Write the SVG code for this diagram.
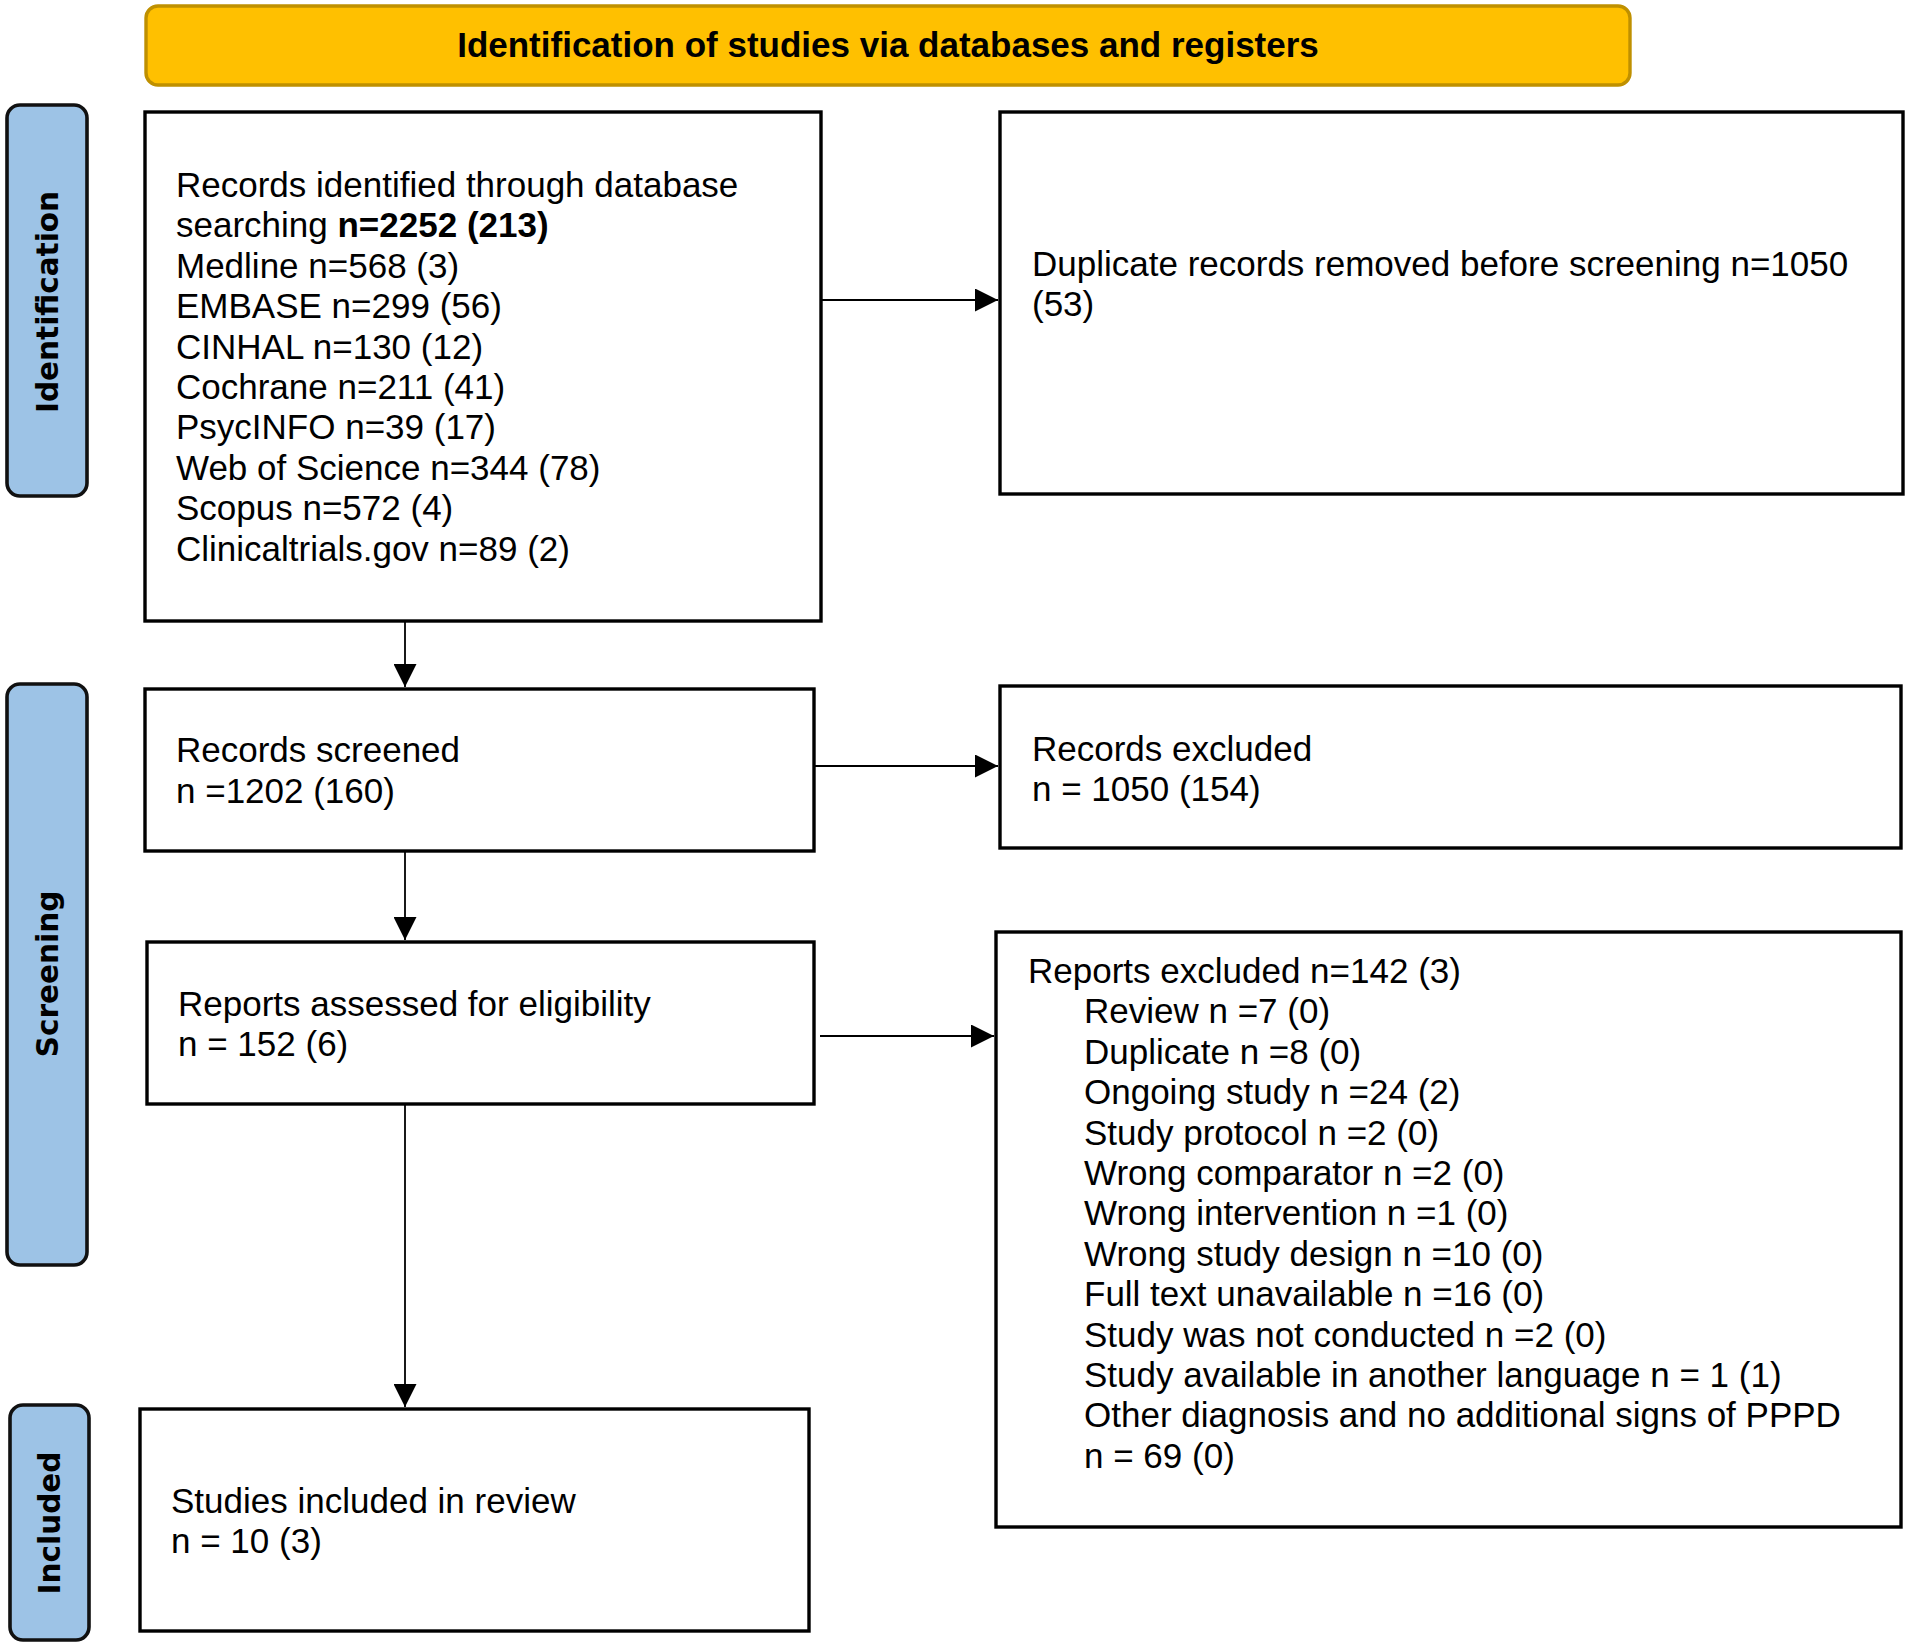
<svg xmlns="http://www.w3.org/2000/svg" width="1908" height="1645" viewBox="0 0 1908 1645">
<style>
.bg{fill:#ffffff}
.box{fill:#ffffff;stroke:#000000;stroke-width:3.4}
.phase{fill:#9DC3E6;stroke:#111111;stroke-width:3.6}
.hdr{fill:#FFC000;stroke:#BF9000;stroke-width:3.4}
.t{font-family:"Liberation Sans",Arial,sans-serif;font-size:35px;fill:#000000}
.hb{font-family:"Liberation Sans",Arial,sans-serif;font-size:35px;font-weight:bold;fill:#000000}
.pt{font-family:"DejaVu Sans",Verdana,sans-serif;font-size:29.5px;font-weight:bold;fill:#000000}
.c{fill:none;stroke:#000000;stroke-width:1.8}
</style>
<defs>
<marker id="ah" markerUnits="userSpaceOnUse" markerWidth="23" markerHeight="23" refX="23" refY="11.5" orient="auto">
<path d="M0,0 L23,11.5 L0,23 z" fill="#000000"/>
</marker>
</defs>
<rect class="bg" x="0" y="0" width="1908" height="1645"/>

<g id="header">
<rect class="hdr" x="146" y="6" width="1484" height="79" rx="12" ry="12"/>
<text class="hb" x="888" y="57" text-anchor="middle">Identification of studies via databases and registers</text>
</g>

<g id="phase-identification">
<rect class="phase" x="7" y="105" width="80" height="391" rx="13" ry="13"/>
<text class="pt" transform="translate(58,302) rotate(-90)" text-anchor="middle">Identification</text>
</g>
<g id="phase-screening">
<rect class="phase" x="7" y="684" width="80" height="581" rx="13" ry="13"/>
<text class="pt" transform="translate(58,974) rotate(-90)" text-anchor="middle">Screening</text>
</g>
<g id="phase-included">
<rect class="phase" x="10" y="1405" width="79" height="235" rx="13" ry="13"/>
<text class="pt" transform="translate(60,1523) rotate(-90)" text-anchor="middle">Included</text>
</g>

<g id="records-identified">
<rect class="box" x="145" y="112" width="676" height="509"/>
<text class="t" x="176" y="197">Records identified through database</text>
<text class="t" x="176" y="237">searching <tspan font-weight="bold">n=2252 (213)</tspan></text>
<text class="t" x="176" y="278">Medline n=568 (3)</text>
<text class="t" x="176" y="318">EMBASE n=299 (56)</text>
<text class="t" x="176" y="359">CINHAL n=130 (12)</text>
<text class="t" x="176" y="399">Cochrane n=211 (41)</text>
<text class="t" x="176" y="439">PsycINFO n=39 (17)</text>
<text class="t" x="176" y="480">Web of Science n=344 (78)</text>
<text class="t" x="176" y="520">Scopus n=572 (4)</text>
<text class="t" x="176" y="561">Clinicaltrials.gov n=89 (2)</text>
</g>

<g id="duplicates-removed">
<rect class="box" x="1000" y="112" width="903" height="382"/>
<text class="t" x="1032" y="276">Duplicate records removed before screening n=1050</text>
<text class="t" x="1032" y="316">(53)</text>
</g>

<g id="records-screened">
<rect class="box" x="145" y="689" width="669" height="162"/>
<text class="t" x="176" y="762">Records screened</text>
<text class="t" x="176" y="803">n =1202 (160)</text>
</g>

<g id="records-excluded">
<rect class="box" x="1000" y="686" width="901" height="162"/>
<text class="t" x="1032" y="761">Records excluded</text>
<text class="t" x="1032" y="801">n = 1050 (154)</text>
</g>

<g id="reports-assessed">
<rect class="box" x="147" y="942" width="667" height="162"/>
<text class="t" x="178" y="1016">Reports assessed for eligibility</text>
<text class="t" x="178" y="1056">n = 152 (6)</text>
</g>

<g id="reports-excluded">
<rect class="box" x="996" y="932" width="905" height="595"/>
<text class="t" x="1028" y="983">Reports excluded n=142 (3)</text>
<text class="t" x="1084" y="1023">Review n =7 (0)</text>
<text class="t" x="1084" y="1064">Duplicate n =8 (0)</text>
<text class="t" x="1084" y="1104">Ongoing study n =24 (2)</text>
<text class="t" x="1084" y="1145">Study protocol n =2 (0)</text>
<text class="t" x="1084" y="1185">Wrong comparator n =2 (0)</text>
<text class="t" x="1084" y="1225">Wrong intervention n =1 (0)</text>
<text class="t" x="1084" y="1266">Wrong study design n =10 (0)</text>
<text class="t" x="1084" y="1306">Full text unavailable n =16 (0)</text>
<text class="t" x="1084" y="1347">Study was not conducted n =2 (0)</text>
<text class="t" x="1084" y="1387">Study available in another language n = 1 (1)</text>
<text class="t" x="1084" y="1427">Other diagnosis and no additional signs of PPPD</text>
<text class="t" x="1084" y="1468">n = 69 (0)</text>
</g>

<g id="studies-included">
<rect class="box" x="140" y="1409" width="669" height="222"/>
<text class="t" x="171" y="1513">Studies included in review</text>
<text class="t" x="171" y="1553">n = 10 (3)</text>
</g>

<g id="connectors">
<path class="c" d="M821,300 H998" marker-end="url(#ah)"/>
<path class="c" d="M405,621 V687" marker-end="url(#ah)"/>
<path class="c" d="M814,766 H998" marker-end="url(#ah)"/>
<path class="c" d="M405,851 V940" marker-end="url(#ah)"/>
<path class="c" d="M820,1036 H994" marker-end="url(#ah)"/>
<path class="c" d="M405,1104 V1407" marker-end="url(#ah)"/>
</g>
</svg>
